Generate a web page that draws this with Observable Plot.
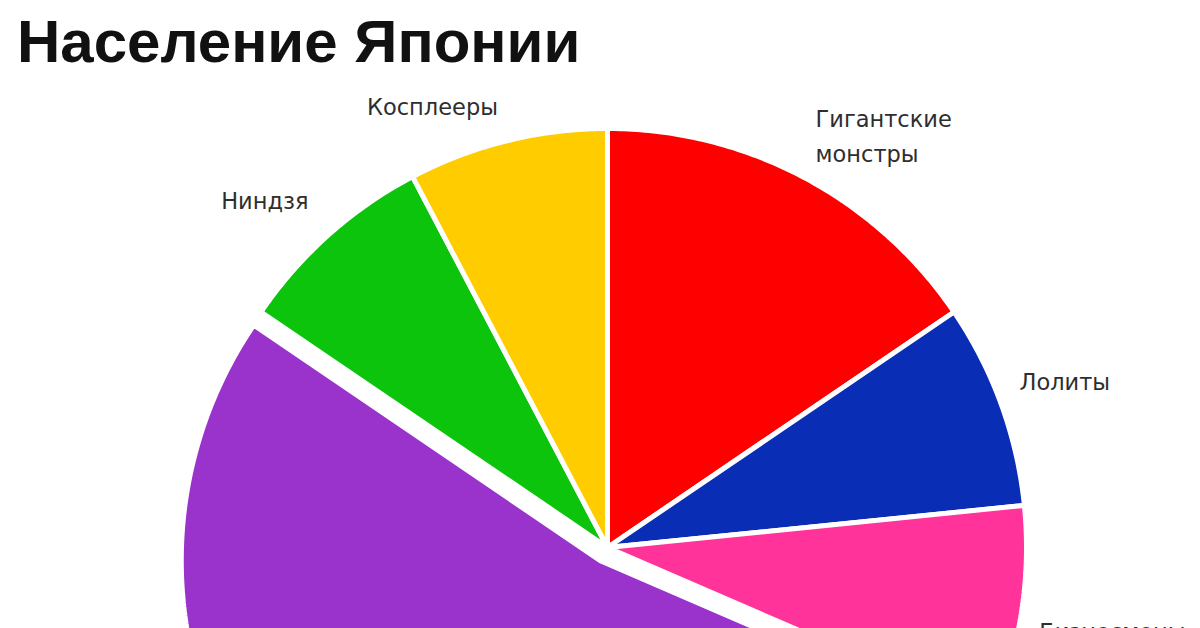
<!DOCTYPE html>
<html>
<head>
<meta charset="utf-8">
<script src="https://cdn.jsdelivr.net/npm/d3@7"></script>
<script src="https://cdn.jsdelivr.net/npm/@observablehq/plot@0.6"></script>
<style>
  html, body { margin: 0; padding: 0; background: #fff; overflow: hidden; width: 1200px; height: 628px; }
  #title { height: 80px; margin: 0; padding-left: 17px; font-family: "Liberation Sans", Arial, sans-serif; font-weight: bold; font-size: 60px; line-height: 84px; color: #111; white-space: nowrap; }
  #chart svg { display: block; }
</style>
</head>
<body>
<div id="title">Население Японии</div>
<div id="chart"></div>
<script>
// ---- data ----
const categories = ["Гигантские монстры", "Лолиты", "Бизнесмены", "Обычные японцы", "Ниндзя", "Косплееры"];
const labels     = ["Гигантские\nмонстры", "Лолиты", "Бизнесмены", "Обычные японцы", "Ниндзя", "Косплееры"];
const shares     = [15.5, 7.9, 8.1, 53.0, 7.8, 7.7];
const colors     = ["#ff0000", "#0a2db5", "#ff3399", "#9933cc", "#0cc40c", "#ffcc00"];
const exploded   = ["Обычные японцы"];

// ---- layout ----
const W = 1200, H = 548;
const cx = 607, cy = 467, R = 419;
const explodeDist = 15;
const labelOffset = 30;
// small per-label nudges (layout only), in pixels
const labelNudge = {
  "Гигантские монстры": [-2, -17],
  "Лолиты": [-10, -15],
  "Бизнесмены": [-12, 12],
  "Ниндзя": [0, -15],
  "Косплееры": [-2, -8]
};

const rows = categories.map((c, i) => ({name: c, label: labels[i], share: shares[i]}));
const arcs = d3.pie().sort(null).value(d => d.share)(rows);

const pts = [];
const labelRows = [];
arcs.forEach(a => {
  const mid = (a.startAngle + a.endAngle) / 2;
  const off = exploded.includes(a.data.name) ? explodeDist : 0;
  const ox = cx + off * Math.sin(mid), oy = cy - off * Math.cos(mid);
  pts.push({name: a.data.name, x: ox, y: oy});
  const n = Math.max(2, Math.ceil((a.endAngle - a.startAngle) / 0.01));
  for (let k = 0; k <= n; k++) {
    const t = a.startAngle + (a.endAngle - a.startAngle) * k / n;
    pts.push({name: a.data.name, x: ox + R * Math.sin(t), y: oy - R * Math.cos(t)});
  }
  const lr = R + labelOffset + off;
  const [dx, dy] = labelNudge[a.data.name] || [0, 0];
  const y = cy - lr * Math.cos(mid) + dy;
  if (y < H + 20) {
    labelRows.push({
      label: a.data.label,
      x: cx + lr * Math.sin(mid) + dx,
      y,
      side: Math.sin(mid) >= 0 ? "start" : "end"
    });
  }
});

const textStyle = {fontSize: 22.5, fontFamily: "DejaVu Sans, sans-serif", fill: "#2e2e2e", lineHeight: 1.55, lineAnchor: "middle"};

const plot = Plot.plot({
  width: W, height: H, margin: 0,
  x: {domain: [0, W], range: [0, W], axis: null},
  y: {domain: [0, H], range: [0, H], axis: null},
  color: {domain: categories, range: colors},
  marks: [
    Plot.line(pts, {x: "x", y: "y", z: "name", fill: "name", stroke: "white", strokeWidth: 5, strokeLinejoin: "miter", curve: "linear-closed"}),
    Plot.text(labelRows.filter(d => d.side === "start"), {x: "x", y: "y", text: "label", textAnchor: "start", ...textStyle}),
    Plot.text(labelRows.filter(d => d.side === "end"), {x: "x", y: "y", text: "label", textAnchor: "end", ...textStyle})
  ]
});
document.getElementById("chart").appendChild(plot);
</script>
</body>
</html>
